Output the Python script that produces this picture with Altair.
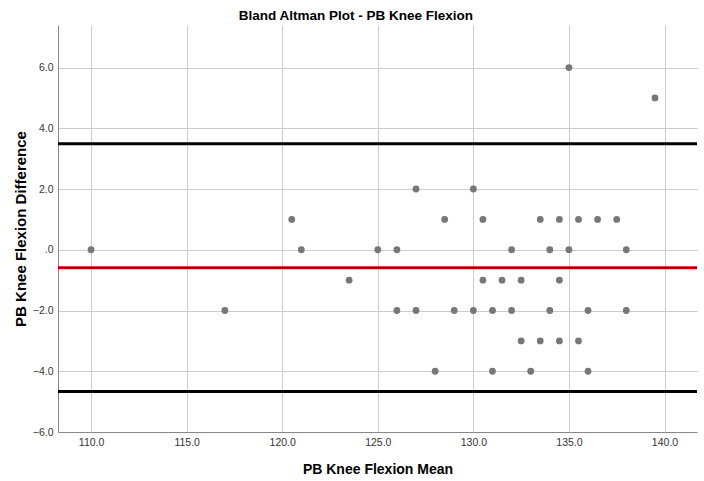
import altair as alt
import pandas as pd

# Bland-Altman points (mean, difference)
means = [110, 117, 120.5, 121, 123.5, 125, 126, 126, 127, 127, 128, 128.5, 129,
         130, 130, 130.5, 130.5, 131, 131, 131.5, 132, 132, 132.5, 132.5, 133,
         133.5, 133.5, 134, 134, 134.5, 134.5, 134.5, 135, 135, 135.5, 135.5,
         136, 136, 136.5, 137.5, 138, 138, 139.5]
diffs = [0, -2, 1, 0, -1, 0, 0, -2, 2, -2, -4, 1, -2,
         2, -2, 1, -1, -2, -4, -1, 0, -2, -1, -3, -4,
         1, -3, 0, -2, 1, -1, -3, 0, 6, 1, -3,
         -2, -4, 1, 1, 0, -2, 5]

mean_diff = -0.59
upper_loa = 3.49
lower_loa = -4.67

x_ticks = [110, 115, 120, 125, 130, 135, 140]
y_ticks = [-6, -4, -2, 0, 2, 4, 6]

pts = pd.DataFrame({"mean": means, "diff": diffs})
loa = pd.DataFrame({"y": [upper_loa, lower_loa]})
md = pd.DataFrame({"y": [mean_diff]})

narrow = "Liberation Sans Narrow, Arial Narrow, Liberation Sans, Arial"
sans = "Liberation Sans, Arial"

x_scale = alt.Scale(domain=[108.27, 141.7], nice=False, zero=False)
y_scale = alt.Scale(domain=[-6, 7.4], nice=False, zero=False)

label_expr = "datum.value == 0 ? '.0' : format(datum.value, '.1f')"

points = alt.Chart(pts).mark_point(
    filled=True, shape="circle", size=46, color="#777777", opacity=1
).encode(
    x=alt.X("mean:Q", scale=x_scale,
            axis=alt.Axis(title="PB Knee Flexion Mean", values=x_ticks,
                          labelExpr="format(datum.value, '.1f')")),
    y=alt.Y("diff:Q", scale=y_scale,
            axis=alt.Axis(title="PB Knee Flexion Difference", values=y_ticks,
                          labelExpr=label_expr)),
)

loa_rules = alt.Chart(loa).mark_rule(color="#000000", strokeWidth=3).encode(
    y=alt.Y("y:Q", scale=y_scale)
)
md_rule = alt.Chart(md).mark_rule(color="#e00000", strokeWidth=3).encode(
    y=alt.Y("y:Q", scale=y_scale)
)
md_core = alt.Chart(md).mark_rule(color="#600000", strokeWidth=1).encode(
    y=alt.Y("y:Q", scale=y_scale)
)

chart = alt.layer(points, loa_rules, md_rule, md_core).properties(
    width=639, height=407,
    title=alt.TitleParams("Bland Altman Plot - PB Knee Flexion", font=narrow,
                          fontSize=13.5, fontWeight="bold", color="#000000",
                          anchor="middle", frame="bounds", offset=3),
    padding={"left": 58, "top": 25, "right": 7, "bottom": 49},
    autosize=alt.AutoSizeParams(type="none"),
).configure_view(
    stroke=None
).configure_axis(
    grid=True, gridColor="#cccccc", gridWidth=1,
    domainColor="#888888", domainWidth=1,
    ticks=False, labelFont=narrow, labelFontSize=10.5, labelColor="#333333",
    labelPadding=5, titleColor="#000000", titleFontWeight="bold",
).configure_axisX(
    titleFont=sans, titleFontSize=14, titlePadding=15,
).configure_axisY(
    titleFont=sans, titleFontSize=15, titlePadding=4,
)

chart.save("out.html", embed_options={"renderer": "svg", "actions": False})
